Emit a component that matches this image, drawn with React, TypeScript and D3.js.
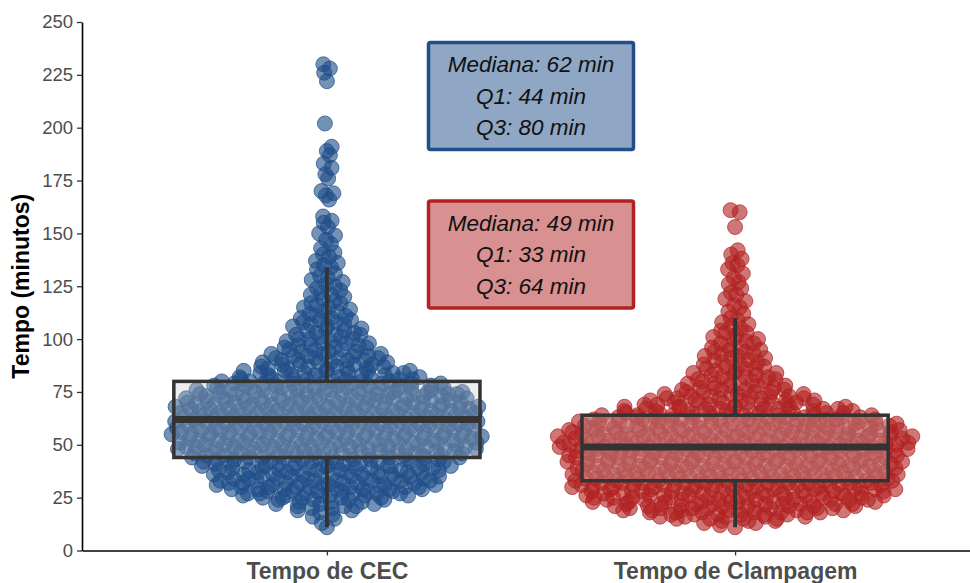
import React, { useEffect, useRef } from 'react';
import * as d3 from 'd3';

// categories and colours
const categories = ['Tempo de CEC', 'Tempo de Clampagem'];
const colors = ['#1f4e89', '#b22222'];

// number of patients per minute, starting at minute 10
const cecStart = 10;
const cecCounts = [
  0, 1, 0, 1, 0, 1, 1, 1, 1, 2, // 10-19
  2, 3, 3, 3, 4, 5, 6, 6, 6, 7, // 20-29
  7, 7, 7, 7, 7, 7, 7, 7, 7, 7, // 30-39
  8, 7, 8, 7, 9, 9, 9, 10, 9, 9, // 40-49
  10, 9, 9, 10, 9, 9, 10, 9, 9, 10, // 50-59
  9, 9, 9, 9, 10, 9, 9, 10, 9, 9, // 60-69
  9, 9, 9, 9, 9, 8, 8, 8, 8, 8, // 70-79
  6, 6, 6, 5, 5, 5, 5, 4, 4, 4, // 80-89
  4, 4, 4, 3, 3, 3, 3, 3, 3, 2, // 90-99
  3, 2, 3, 2, 2, 2, 2, 2, 2, 2, // 100-109
  2, 2, 1, 2, 1, 2, 1, 2, 1, 1, // 110-119
  1, 2, 1, 1, 1, 1, 1, 1, 1, 1, // 120-129
  1, 1, 0, 1, 1, 1, 1, 1, 0, 1, // 130-139
];
// single long cases above 140 min
const cecHigh = [140, 141, 143, 145, 147, 149, 150, 153, 155, 156, 158, 166, 168, 169, 170,
  176, 178, 181, 183, 187, 189, 191, 202, 222, 226, 228, 230];

const clampStart = 10;
const clampCounts = [
  0, 1, 1, 2, 3, 4, 5, 6, 7, 7, // 10-19
  8, 8, 9, 9, 9, 9, 10, 9, 10, 10, // 20-29
  10, 10, 10, 10, 10, 10, 10, 10, 10, 10, // 30-39
  10, 10, 10, 10, 10, 11, 10, 10, 11, 11, // 40-49
  11, 11, 11, 11, 11, 11, 10, 11, 10, 10, // 50-59
  10, 10, 10, 10, 8, 8, 7, 7, 7, 6, // 60-69
  6, 5, 5, 5, 4, 4, 4, 3, 3, 3, // 70-79
  3, 3, 3, 2, 3, 2, 3, 2, 2, 2, // 80-89
  2, 2, 2, 2, 2, 2, 2, 1, 2, 1, // 90-99
  2, 1, 1, 2, 1, 1, 1, 1, 1, 1, 1, // 100-110
];
const clampHigh = [112, 113, 115, 116, 118, 119, 121, 122, 124, 126, 127, 129, 131, 133,
  135, 136, 138, 140, 142, 153, 160, 161];

const yTicks = [0, 25, 50, 75, 100, 125, 150, 175, 200, 225, 250];
const yTitle = 'Tempo (minutos)';

// annotation boxes
const summaryLines = [
  ['Mediana: 62 min', 'Q1: 44 min', 'Q3: 80 min'],
  ['Mediana: 49 min', 'Q1: 33 min', 'Q3: 64 min'],
];
const summaryX = 1.5;
const summaryY = [215, 140];

const expand = (start: number, counts: number[], high: number[]) =>
  counts.flatMap((c, i) => Array(c).fill(start + i)).concat(high);

// van der Corput sequence, base 2
const vdc = (n: number) => {
  let v = 0, denom = 1;
  while (n > 0) {
    denom *= 2;
    v += (n % 2) / denom;
    n = Math.floor(n / 2);
  }
  return v;
};

// quasirandom offsets (like ggbeeswarm), in -1..1
const quasiOffsets = (vals: number[]) => {
  const n = vals.length;
  const sorted = vals.slice().sort(d3.ascending);
  const sd = d3.deviation(vals) as number;
  const iqr = (d3.quantile(sorted, 0.75) as number) - (d3.quantile(sorted, 0.25) as number);
  const bw = 0.5 * 0.9 * Math.min(sd, iqr / 1.34) * Math.pow(n, -0.2);
  const dens = vals.map(y => d3.sum(vals, v => Math.exp(-0.5 * ((y - v) / bw) ** 2)));
  const mx = d3.max(dens) as number;
  const order = d3.range(n).sort((a, b) => vals[a] - vals[b] || a - b);
  const rank: number[] = new Array(n);
  order.forEach((idx, r) => { rank[idx] = r + 1; });
  return vals.map((_, i) => (vdc(rank[i]) - 0.5) * 2 * dens[i] / mx);
};

const App = () => {
  const ref = useRef<SVGSVGElement>(null);
  const width = 970;
  const height = 583;

  useEffect(() => {
    const svg = d3.select(ref.current);
    svg.selectAll('*').remove();

    const font = '"Liberation Sans", Arial, sans-serif';
    const x = d3.scaleLinear().domain([0.4, 2.6]).range([82, 980]);
    const y = d3.scaleLinear().domain([0, 250]).range([550.5, 22]);
    const unit = x(2) - x(1);

    const groups = [
      expand(cecStart, cecCounts, cecHigh),
      expand(clampStart, clampCounts, clampHigh),
    ];
    const swarmWidth = [156, 181]; // max half spread in px

    // points
    groups.forEach((vals, gi) => {
      const offs = quasiOffsets(vals);
      svg.append('g')
        .selectAll('circle')
        .data(vals)
        .enter().append('circle')
        .attr('cx', (d, i) => x(gi + 1) + offs[i] * swarmWidth[gi])
        .attr('cy', d => y(d))
        .attr('r', 7.5)
        .attr('fill', colors[gi])
        .attr('fill-opacity', 0.62)
        .attr('stroke', colors[gi])
        .attr('stroke-opacity', 0.7)
        .attr('stroke-width', 1);
    });

    // boxplots
    groups.forEach((vals, gi) => {
      const s = vals.slice().sort(d3.ascending);
      const q1 = d3.quantile(s, 0.25) as number;
      const med = d3.quantile(s, 0.5) as number;
      const q3 = d3.quantile(s, 0.75) as number;
      const iqr = q3 - q1;
      const lo = d3.min(s.filter(v => v >= q1 - 1.5 * iqr)) as number;
      const hi = d3.max(s.filter(v => v <= q3 + 1.5 * iqr)) as number;
      const cx = x(gi + 1);
      const bw = 0.75 * unit;
      const g = svg.append('g');
      g.append('line')
        .attr('x1', cx).attr('x2', cx).attr('y1', y(q3)).attr('y2', y(hi))
        .attr('stroke', '#333333').attr('stroke-width', 3.8);
      g.append('line')
        .attr('x1', cx).attr('x2', cx).attr('y1', y(q1)).attr('y2', y(lo))
        .attr('stroke', '#333333').attr('stroke-width', 3.8);
      g.append('rect')
        .attr('x', cx - bw / 2).attr('width', bw)
        .attr('y', y(q3)).attr('height', y(q1) - y(q3))
        .attr('fill', '#c8c8c8').attr('fill-opacity', 0.3)
        .attr('stroke', '#333333').attr('stroke-width', 3.5);
      g.append('line')
        .attr('x1', cx - bw / 2).attr('x2', cx + bw / 2)
        .attr('y1', y(med)).attr('y2', y(med))
        .attr('stroke', '#333333').attr('stroke-width', 7);
    });

    // summary labels
    summaryLines.forEach((lines, gi) => {
      const cx = x(summaryX);
      const cy = y(summaryY[gi]);
      const g = svg.append('g');
      g.append('rect')
        .attr('x', cx - 102.5).attr('y', cy - 53.5)
        .attr('width', 205).attr('height', 107)
        .attr('rx', 2)
        .attr('fill', colors[gi]).attr('fill-opacity', 0.5)
        .attr('stroke', colors[gi]).attr('stroke-width', 3.5);
      g.selectAll('text')
        .data(lines)
        .enter().append('text')
        .attr('x', cx)
        .attr('y', (d, i) => cy + (i - 1) * 31.5)
        .attr('dy', '0.35em')
        .attr('text-anchor', 'middle')
        .attr('font-family', font)
        .attr('font-style', 'italic')
        .attr('font-size', '22.5px')
        .attr('fill', '#111111')
        .text(d => d);
    });

    // y axis
    const yAxis = svg.append('g')
      .attr('transform', 'translate(82,0)')
      .call(d3.axisLeft(y).tickValues(yTicks).tickSize(5).tickSizeOuter(0).tickPadding(4));
    yAxis.select('.domain').attr('stroke', '#000000').attr('stroke-width', 1.6);
    yAxis.selectAll('.tick line').attr('stroke', '#333333').attr('stroke-width', 1.3);
    yAxis.selectAll('.tick text')
      .attr('font-family', font).attr('font-size', '18.5px').attr('fill', '#4d4d4d');

    // x axis
    const xAxis = svg.append('g')
      .attr('transform', 'translate(0,550.5)')
      .call(d3.axisBottom(x).tickValues([1, 2]).tickFormat((d: any) => categories[d - 1])
        .tickSize(5).tickSizeOuter(0).tickPadding(7));
    xAxis.select('.domain').attr('stroke', '#000000').attr('stroke-width', 1.6);
    xAxis.selectAll('.tick line').attr('stroke', '#333333').attr('stroke-width', 1.3);
    xAxis.selectAll('.tick text')
      .attr('font-family', font).attr('font-size', '23px').attr('font-weight', 'bold')
      .attr('fill', '#4d4d4d');

    // y title
    svg.append('text')
      .attr('transform', `translate(29,${(y(0) + y(250)) / 2}) rotate(-90)`)
      .attr('text-anchor', 'middle')
      .attr('font-family', font)
      .attr('font-size', '23px')
      .attr('font-weight', 'bold')
      .attr('fill', '#000000')
      .text(yTitle);
  }, []);

  return (
    <svg ref={ref} width={width} height={height}
      style={{ position: 'absolute', left: 0, top: 0, background: '#ffffff' }} />
  );
};

export default App;
